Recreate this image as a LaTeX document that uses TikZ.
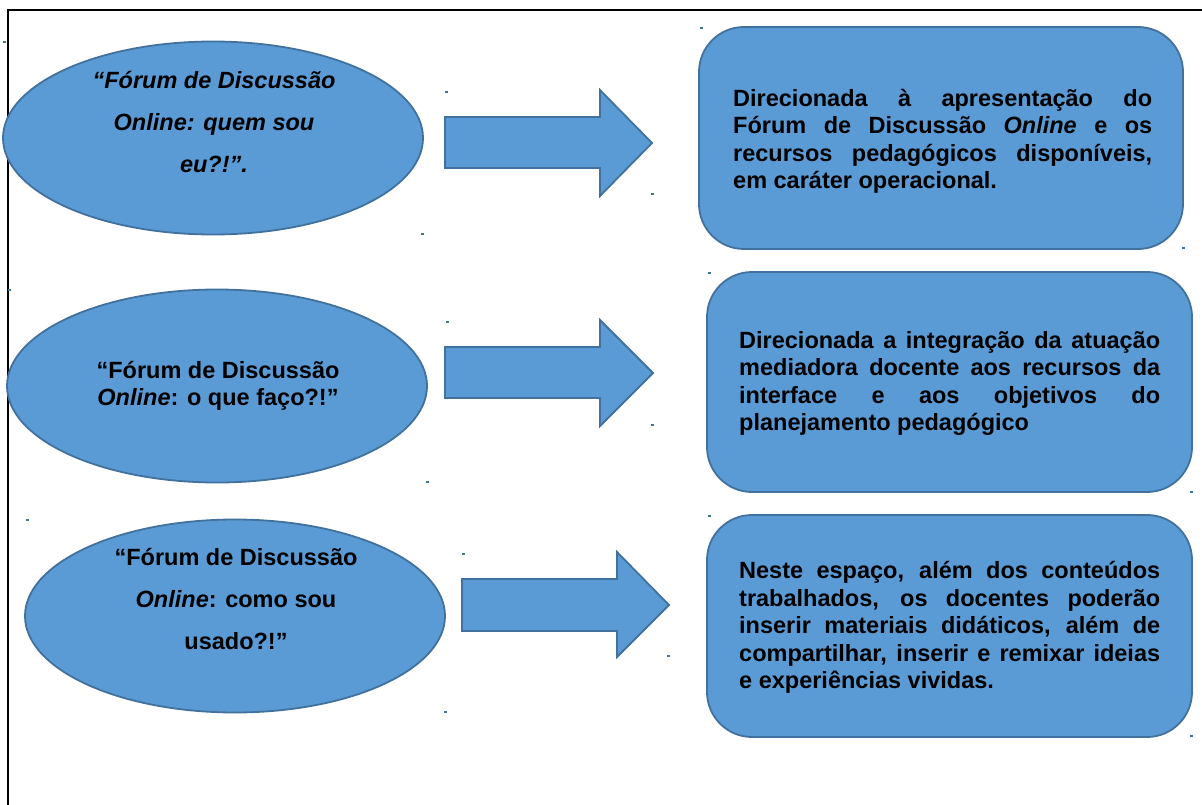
\documentclass[tikz,border=0pt]{standalone}
\usepackage{fontspec}
\setmainfont{Liberation Sans}
\usetikzlibrary{shapes.geometric}
\definecolor{fillblue}{HTML}{5B9BD5}
\definecolor{edgeblue}{HTML}{41719C}
\begin{document}
\begin{tikzpicture}[x=1pt,y=-1pt,
  shapestyle/.style={fill=fillblue, draw=edgeblue, line width=1.8pt},
  oval/.style={shapestyle, ellipse, minimum width=420pt, minimum height=193pt, inner sep=0pt},
  boxstyle/.style={shapestyle, rectangle, rounded corners=45pt, inner sep=0pt},
  txt/.style={font=\fontsize{23.5}{27.5}\selectfont\bfseries, inner sep=0pt, text=black},
  ovaltxt/.style={font=\fontsize{23.5}{42}\selectfont\bfseries, inner sep=0pt, text=black, align=center},
  handle/.style={fill=edgeblue},
  blockarrow/.style={shapestyle, line join=miter}]
\useasboundingbox (0,0) rectangle (1202,805);
\fill[white] (0,0) rectangle (1202,805);
% frame
\coordinate (fb) at (8,805);
\coordinate (fc) at (8,10);
\coordinate (fr) at (1202,10);
\draw[line width=1.6pt] (fb) -- (fc) -- (fr);

% ellipses
\node[oval] (e1) at (213,138) {};
\node[oval] (e2) at (217,386) {};
\node[oval] (e3) at (235,616) {};

% rounded boxes
\node[boxstyle, minimum width=484pt, minimum height=222pt] (r1) at (941,138) {};
\node[boxstyle, minimum width=485pt, minimum height=220pt] (r2) at (949.5,382) {};
\node[boxstyle, minimum width=485pt, minimum height=222pt] (r3) at (949.5,626) {};

% block arrows
\draw[blockarrow] (445,117) -- (600,117) -- (600,90) -- (652,143) -- (600,196) -- (600,168) -- (445,168) -- cycle;
\draw[blockarrow] (445,347) -- (600,347) -- (600,320) -- (653,373) -- (600,426) -- (600,398) -- (445,398) -- cycle;
\draw[blockarrow] (462,579) -- (617,579) -- (617,552) -- (669,605) -- (617,657) -- (617,631) -- (462,631) -- cycle;

% ellipse texts
\node[ovaltxt, font=\fontsize{23.5}{42}\selectfont\bfseries\itshape] (l1) at (214,122)
  {“Fórum de Discussão\\Online: quem sou\\eu?!”.};
\node[ovaltxt, font=\fontsize{23.5}{27}\selectfont\bfseries] (l2) at (218,386)
  {“Fórum de Discussão\\\textit{Online}: o que faço?!”};
\node[ovaltxt] (l3) at (236,599)
  {“Fórum de Discussão\\\textit{Online}: como sou\\usado?!”};

% box texts
\node[txt, anchor=west, align=left] (t1) at (733,141.5)
  {\makebox[419pt][s]{Direcionada à apresentação do}\\
   \makebox[419pt][s]{Fórum de Discussão \textit{Online} e os}\\
   \makebox[419pt][s]{recursos pedagógicos disponíveis,}\\
   em caráter operacional.};
\node[txt, anchor=west, align=left] (t2) at (739,383.5)
  {\makebox[421pt][s]{Direcionada a integração da atuação}\\
   \makebox[421pt][s]{mediadora docente aos recursos da}\\
   \makebox[421pt][s]{interface e aos objetivos do}\\
   planejamento pedagógico};
\node[txt, anchor=west, align=left] (t3) at (739,627.5)
  {\makebox[421pt][s]{Neste espaço, além dos conteúdos}\\
   \makebox[421pt][s]{trabalhados, os docentes poderão}\\
   \makebox[421pt][s]{inserir materiais didáticos, além de}\\
   \makebox[421pt][s]{compartilhar, inserir e remixar ideias}\\
   e experiências vividas.};

% selection handle marks
\foreach \hx/\hy in {4/42, 446/92, 422/234, 652/194, 701/28, 1183/248,
  9/290, 447/322, 427/482, 709/273, 1191/492, 652/425,
  27/520, 445/712, 709/516, 1191/736, 463/554, 668/656}
  \fill[handle] (\hx-1.5,\hy-1) rectangle (\hx+1.5,\hy+1);
\end{tikzpicture}
\end{document}
